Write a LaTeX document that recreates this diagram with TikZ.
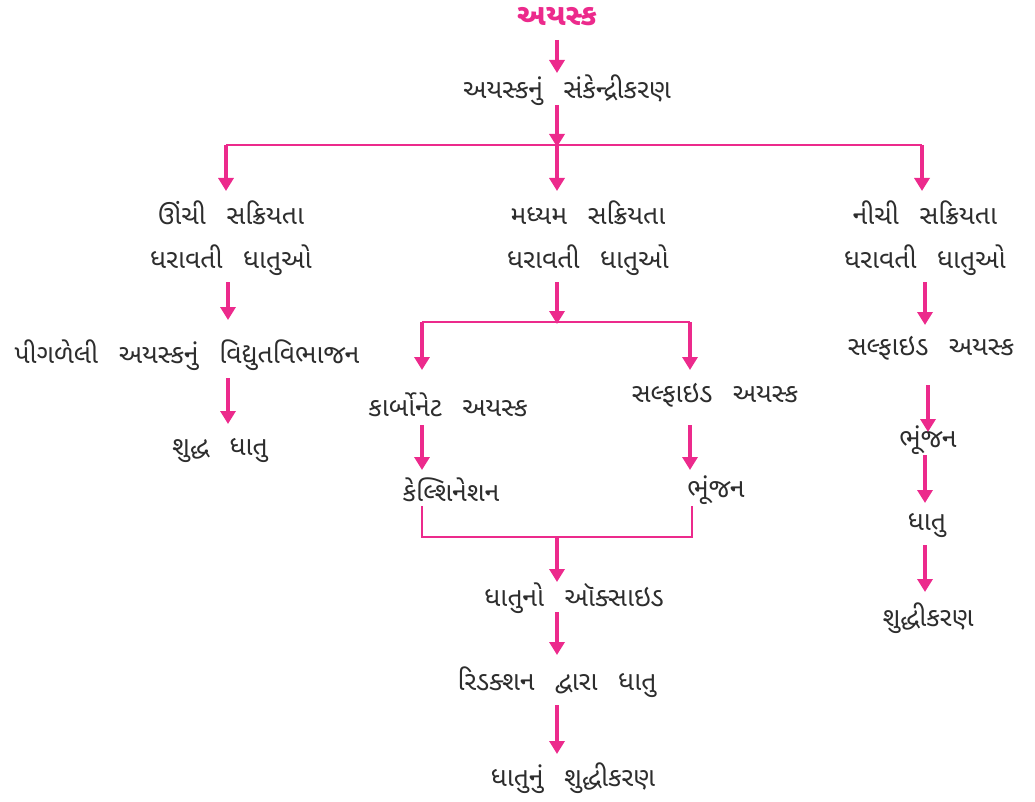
\documentclass[tikz,border=0pt]{standalone}
\usepackage{fontspec}
\newfontfamily\guj[Script=Gujarati,WordSpace=2.6]{Noto Sans Gujarati UI}
\usetikzlibrary{arrows.meta}
\definecolor{pinkc}{RGB}{236,42,140}
\definecolor{txtc}{RGB}{45,45,45}
\tikzset{
  lbl/.style={font=\guj\fontsize{26.5}{44}\selectfont, text=txtc, inner sep=0pt, anchor=center},
  ttl/.style={font=\guj\bfseries\fontsize{30}{34}\selectfont, text=pinkc, inner sep=0pt, anchor=center},
  link/.style={draw=pinkc, line width=3.3pt},
  hlink/.style={draw=pinkc, line width=2.8pt},
  arr/.style={link, -{Triangle[width=15pt,length=13pt]}},
}
\begin{document}
\begin{tikzpicture}[x=1pt,y=-1pt]
\useasboundingbox (0,0) rectangle (1035,802);
% nodes
\node[ttl] (ore) at (557,17) {અયસ્ક};
\node[lbl] (conc) at (567,90) {અયસ્કનું સંકેન્દ્રીકરણ};
\node[lbl, align=center] (high) at (231,238) {ઊંચી સક્રિયતા\\ધરાવતી ધાતુઓ};
\node[lbl, align=center] (mid) at (588,238) {મધ્યમ સક્રિયતા\\ધરાવતી ધાતુઓ};
\node[lbl, align=center] (low) at (925,238) {નીચી સક્રિયતા\\ધરાવતી ધાતુઓ};
\node[lbl] (elec) at (187,355) {પીગળેલી અયસ્કનું વિદ્યુતવિભાજન};
\node[lbl] (pure1) at (220,450) {શુદ્ધ ધાતુ};
\node[lbl] (carb) at (448,405) {કાર્બોનેટ અયસ્ક};
\node[lbl] (sulf1) at (715,395) {સલ્ફાઇડ અયસ્ક};
\node[lbl] (calc) at (451,490) {કેલ્શિનેશન};
\node[lbl] (roast1) at (716,490) {ભૂંજન};
\node[lbl] (oxide) at (574,598) {ધાતુનો ઑક્સાઇડ};
\node[lbl] (red) at (557,682) {રિડક્શન દ્વારા ધાતુ};
\node[lbl] (refine1) at (573,778) {ધાતુનું શુદ્ધીકરણ};
\node[lbl] (sulf2) at (931,348) {સલ્ફાઇડ અયસ્ક};
\node[lbl] (roast2) at (928,440) {ભૂંજન};
\node[lbl] (metal) at (927,525) {ધાતુ};
\node[lbl] (refine2) at (928,618) {શુદ્ધીકરણ};
% junction coordinates
\coordinate (a0s) at (557,40);   \coordinate (a0e) at (557,73);
\coordinate (t0) at (557,105);   \coordinate (j1) at (557,147);
\coordinate (j1l) at (226,145);  \coordinate (j1r) at (922,145);
\coordinate (e1l) at (226,191);  \coordinate (e1m) at (557,191); \coordinate (e1r) at (922,191);
\coordinate (j1b) at (557,145);
% left column
\coordinate (l1s) at (228,282);  \coordinate (l1e) at (228,320);
\coordinate (l2s) at (228,378);  \coordinate (l2e) at (228,424);
% middle column
\coordinate (m1s) at (557,282);  \coordinate (j2) at (557,324);
\coordinate (j2l) at (422,322);  \coordinate (j2r) at (690,322);
\coordinate (e2l) at (422,370);  \coordinate (e2r) at (690,370);
\coordinate (m2ls) at (422,425); \coordinate (m2le) at (422,470);
\coordinate (m2rs) at (690,425); \coordinate (m2re) at (690,470);
\coordinate (m3l) at (422,506);  \coordinate (m3r) at (692,506);
\coordinate (j3l) at (422,537);  \coordinate (j3r) at (692,537);
\coordinate (j3) at (557,537);   \coordinate (e3) at (557,582);
\coordinate (m4s) at (557,612);  \coordinate (m4e) at (557,655);
\coordinate (m5s) at (557,705);  \coordinate (m5e) at (557,754);
% right column
\coordinate (r1s) at (925,282);  \coordinate (r1e) at (925,325);
\coordinate (r2s) at (928,385);  \coordinate (r2e) at (928,432);
\coordinate (r3s) at (925,455);  \coordinate (r3e) at (925,503);
\coordinate (r4s) at (925,545);  \coordinate (r4e) at (925,592);
% connectors
\draw[arr] (a0s) -- (a0e);
\draw[hlink] (j1l) -- (j1r);
\draw[arr] (t0) -- (j1);
\draw[arr] (j1l) -- (e1l);
\draw[arr] (j1b) -- (e1m);
\draw[arr] (j1r) -- (e1r);
\draw[arr] (l1s) -- (l1e);
\draw[arr] (l2s) -- (l2e);
\draw[hlink] (j2l) -- (j2r);
\draw[arr] (m1s) -- (j2);
\draw[arr] (j2l) -- (e2l);
\draw[arr] (j2r) -- (e2r);
\draw[arr] (m2ls) -- (m2le);
\draw[arr] (m2rs) -- (m2re);
\draw[hlink] (m3l) -- (j3l) -- (j3r) -- (m3r);
\draw[arr] (j3) -- (e3);
\draw[arr] (m4s) -- (m4e);
\draw[arr] (m5s) -- (m5e);
\draw[arr] (r1s) -- (r1e);
\draw[arr] (r2s) -- (r2e);
\draw[arr] (r3s) -- (r3e);
\draw[arr] (r4s) -- (r4e);
\end{tikzpicture}
\end{document}
